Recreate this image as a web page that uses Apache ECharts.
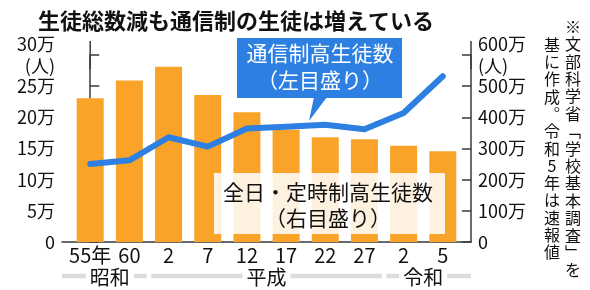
<!DOCTYPE html>
<html><head><meta charset="utf-8">
<script src="https://cdn.jsdelivr.net/npm/echarts@6/dist/echarts.min.js"></script>
<style>html,body{margin:0;padding:0;background:#fff}#c{width:590px;height:290px}</style>
</head><body><div id="c"></div>
<script>
// ---- data ----
const titleText = '生徒総数減も通信制の生徒は増えている';
const categories = ['55年', '60', '2', '7', '12', '17', '22', '27', '2', '5'];
const eraOfCategory = ['昭和', '昭和', '平成', '平成', '平成', '平成', '平成', '平成', '令和', '令和'];
// 全日・定時制高生徒数 (右目盛り, 人)
const zenNichiTeiji = [4610000, 5180000, 5620000, 4720000, 4160000, 3600000, 3360000, 3300000, 3090000, 2910000];
// 通信制高生徒数 (左目盛り, 人)
const tsushin = [125000, 131000, 168000, 153000, 182000, 185000, 188000, 181000, 207000, 266000];
const leftTickLabels = ['0', '5万', '10万', '15万', '20万', '25万', '30万'];
const rightTickLabels = ['0', '100万', '200万', '300万', '400万', '500万', '600万'];
const unitLabel = '(人)';
const tsushinLabel = ['通信制高生徒数', '（左目盛り）'];
const zenNichiLabel = ['全日・定時制高生徒数', '（右目盛り）'];
const noteColumns = ['※文部科学省﹁学校基本調査﹂を', '基に作成︒令和5年は速報値'];

// ---- layout / style ----
const FONT = '"Noto Sans CJK JP", "Noto Sans CJK SC", sans-serif';
const ORANGE = '#f9a428';
const BLUE = '#2d7fe2';
const AXIS = '#3a3a3a';
const X_MIN = -0.72, X_MAX = categories.length - 1 + 0.72;

const eras = [];
eraOfCategory.forEach((e, i) => {
  const last = eras[eras.length - 1];
  if (last && last.name === e) last.end = i; else eras.push({ name: e, start: i, end: i });
});

const chart = echarts.init(document.getElementById('c'), null, { renderer: 'canvas' });

function yAxisCfg(labels, max, interval, position, align) {
  return {
    type: 'value', position: position, min: 0, max: max, interval: interval,
    axisLine: { show: true, lineStyle: { color: AXIS, width: 1.5 }, symbol: ['none', 'rect'], symbolSize: [1.5, 28] },
    axisTick: { show: true, inside: true, length: 9, lineStyle: { color: AXIS, width: 1.5 } },
    splitLine: { show: false },
    axisLabel: {
      margin: 7, color: '#111', fontSize: 18, fontFamily: FONT, align: align,
      formatter: (v, i) => i === labels.length - 1 ? '{u|' + labels[i] + '}\n{u|' + unitLabel + '}' : labels[i],
      rich: { u: { fontSize: 18, fontFamily: FONT, color: '#111', lineHeight: 22, align: align } }
    }
  };
}

const option = {
  animation: false,
  backgroundColor: '#fff',
  title: { text: titleText, left: 33, top: 5, textStyle: { fontSize: 22, fontWeight: 'bold', color: '#111', fontFamily: FONT } },
  grid: { left: 62, right: 119, top: 55, bottom: 48, containLabel: false },
  xAxis: {
    type: 'value', min: X_MIN, max: X_MAX,
    axisLine: { show: true, onZero: false, lineStyle: { color: AXIS, width: 1.5 } },
    axisTick: { show: false }, axisLabel: { show: false }, splitLine: { show: false }
  },
  yAxis: [
    yAxisCfg(leftTickLabels, 300000, 50000, 'left', 'right'),
    yAxisCfg(rightTickLabels, 6000000, 1000000, 'right', 'left')
  ],
  series: [
    {
      type: 'bar', yAxisIndex: 1, barWidth: 27, z: 2,
      itemStyle: { color: ORANGE },
      data: zenNichiTeiji.map((v, i) => [i, v])
    },
    {
      type: 'line', yAxisIndex: 0, z: 4, symbol: 'none',
      lineStyle: { color: BLUE, width: 6, cap: 'round', join: 'round' },
      data: tsushin.map((v, i) => [i, v])
    },
    {
      type: 'custom', yAxisIndex: 0, clip: false, silent: true, z: 5,
      data: categories.map((c, i) => [i, 0]),
      renderItem: (params, api) => {
        const p = api.coord([api.value(0), 0]);
        return { type: 'text', style: { text: categories[params.dataIndex], x: p[0], y: p[1] + 13, align: 'center', verticalAlign: 'middle', fill: '#111', font: '20px ' + FONT } };
      }
    },
    {
      type: 'custom', yAxisIndex: 0, clip: false, silent: true, z: 5,
      data: eras.map(e => [(e.start + e.end) / 2, 0]),
      renderItem: (params, api) => {
        const e = eras[params.dataIndex];
        const gap = 0.06;
        const x0 = params.dataIndex === 0 ? X_MIN : e.start - 0.5 + gap;
        const x1 = params.dataIndex === eras.length - 1 ? X_MAX : e.end + 0.5 - gap;
        const a = api.coord([x0, 0]), b = api.coord([x1, 0]), c = api.coord([(e.start + e.end) / 2, 0]);
        const y = a[1] + 34;
        return { type: 'group', children: [
          { type: 'line', shape: { x1: a[0], y1: y, x2: b[0], y2: y }, style: { stroke: '#dcdcdc', lineWidth: 4.5 } },
          { type: 'text', style: { text: e.name, x: c[0], y: y + 1, align: 'center', verticalAlign: 'middle', fill: '#111', font: '20px ' + FONT, backgroundColor: '#fff', padding: [0, 4] } }
        ] };
      }
    }
  ],
  graphic: [
    // blue callout
    { type: 'rect', z: 100, shape: { x: 237, y: 38, width: 165, height: 60 }, style: { fill: BLUE } },
    { type: 'polygon', z: 100, shape: { points: [[314, 97], [327, 97], [309, 121]] }, style: { fill: BLUE } },
    { type: 'text', z: 101, style: { text: tsushinLabel[0], x: 320, y: 53, align: 'center', verticalAlign: 'middle', fill: '#fff', font: '21px ' + FONT } },
    { type: 'text', z: 101, style: { text: tsushinLabel[1], x: 320, y: 80, align: 'center', verticalAlign: 'middle', fill: '#fff', font: '21px ' + FONT } },
    // cream label box
    { type: 'rect', z: 100, shape: { x: 214, y: 173, width: 231, height: 61 }, style: { fill: 'rgba(255,255,255,0.85)' } },
    { type: 'text', z: 101, style: { text: zenNichiLabel[0], x: 328, y: 192, align: 'center', verticalAlign: 'middle', fill: '#111', font: '21px ' + FONT } },
    { type: 'text', z: 101, style: { text: zenNichiLabel[1], x: 328, y: 218, align: 'center', verticalAlign: 'middle', fill: '#111', font: '21px ' + FONT } },
    // vertical note
    { type: 'text', z: 101, style: { text: noteColumns[0].split('').join('\n'), x: 573, y: 18, align: 'center', verticalAlign: 'top', fill: '#111', font: '16px ' + FONT, lineHeight: 17.4 } },
    { type: 'text', z: 101, style: { text: noteColumns[1].split('').join('\n'), x: 552, y: 36, align: 'center', verticalAlign: 'top', fill: '#111', font: '16px ' + FONT, lineHeight: 17.3 } }
  ]
};
chart.setOption(option);
</script></body></html>
